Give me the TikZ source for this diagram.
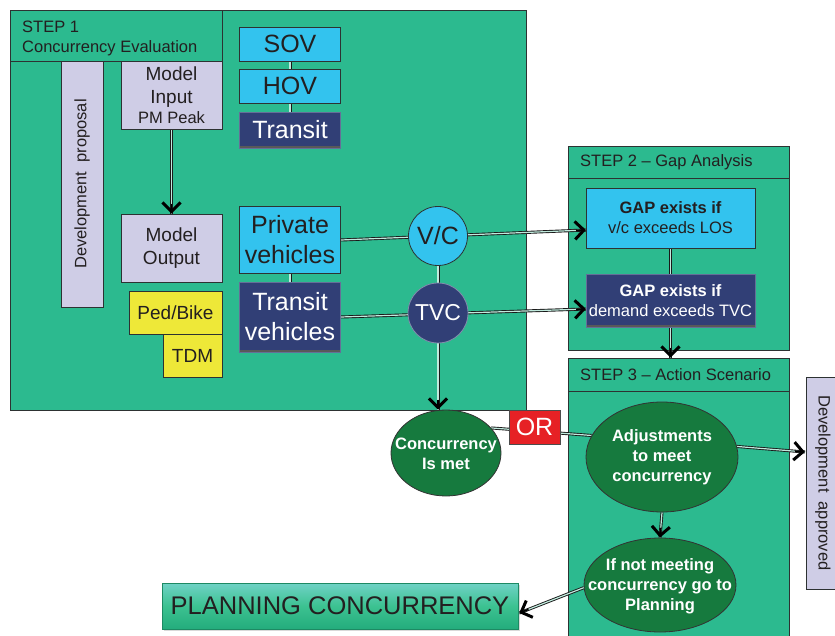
\documentclass[tikz,border=0pt]{standalone}
\usepackage{fontspec}
\setmainfont{Liberation Sans}
\usetikzlibrary{arrows.meta,shapes.geometric,shadows,calc}
\definecolor{stepgreen}{RGB}{44,186,143}
\definecolor{skyc}{RGB}{51,195,238}
\definecolor{navyc}{RGB}{49,63,118}
\definecolor{lavc}{RGB}{207,205,230}
\definecolor{yellc}{RGB}{238,232,56}
\definecolor{darkg}{RGB}{22,122,62}
\definecolor{redc}{RGB}{230,33,37}
\definecolor{txt}{RGB}{35,31,32}
\definecolor{edgec}{RGB}{45,50,50}
\definecolor{pctop}{RGB}{112,210,198}
\definecolor{pcmid}{RGB}{60,194,145}
\definecolor{pcbot}{RGB}{36,172,124}
\newcommand\fsA{\fontsize{16.5}{20}\selectfont}
\newcommand\fsB{\fontsize{19}{23}\selectfont}
\newcommand\fsC{\fontsize{25}{30}\selectfont}
\pgfdeclarelayer{bgl}
\pgfdeclarelayer{lines}
\pgfsetlayers{bgl,lines,main}
\tikzset{
  base/.style={rectangle, draw=edgec, line width=0.8pt, inner sep=0pt, align=center, text=txt},
  greenbox/.style={base, fill=stepgreen},
  skybox/.style={base, fill=skyc},
  navybox/.style={base, fill=navyc, draw=navyc!75!white, text=white,
    path picture={\draw[line width=4pt, black!65] (path picture bounding box.south west) -- (path picture bounding box.south east);}},
  lavbox/.style={base, fill=lavc},
  yellbox/.style={base, fill=yellc},
  oval/.style={ellipse, draw=black!80, line width=0.8pt, fill=darkg, inner sep=0pt},
  ovaltext/.style={inner sep=0pt, text=white, align=center, font=\fsA\bfseries},
  conn/.style={draw=black!90, line width=0.9pt, double=white!70!stepgreen, double distance=1.2pt},
  tipl/.style={draw=black, line width=1.6pt, -{Straight Barb[length=9pt,width=18pt,line width=3pt]}},
  hdr/.style={anchor=west, inner sep=0pt, text=txt, font=\fsA}
}
\newcommand\arr[2]{\draw[conn] #1 -- #2; \draw[tipl] ($#2!10pt!#1$) -- #2;}
\begin{document}
\begin{tikzpicture}[x=1pt,y=-1pt]
\useasboundingbox (0,0) rectangle (835,636);
\begin{pgfonlayer}{bgl}
  \node[greenbox, minimum width=516, minimum height=400] (s1) at (268,210) {};
  \node[greenbox, minimum width=212, minimum height=51] (s1h) at (116,35.5) {};
  \node[greenbox, minimum width=221, minimum height=204] (s2) at (678.5,248) {};
  \node[greenbox, minimum width=221, minimum height=32] (s2h) at (678.5,162) {};
  \node[greenbox, minimum width=221, minimum height=294] (s3) at (678.5,505) {};
  \node[greenbox, minimum width=221, minimum height=33] (s3h) at (678.5,374.5) {};
\end{pgfonlayer}
% headers
\node[anchor=north west, align=left, inner sep=0pt, text=txt, font=\fsA] (s1t) at (22,21) {STEP 1\\Concurrency Evaluation};
\node[hdr] (s2t) at (580,162) {STEP 2 -- Gap Analysis};
\node[hdr] (s3t) at (580,375) {STEP 3 -- Action Scenario};
% step 1 content
\node[lavbox, minimum width=42, minimum height=246] (devp) at (82,184) {};
\node[rotate=90, font=\fsA, text=txt, inner sep=0pt] (devpt) at (devp.center) {Development\ \ proposal};
\node[lavbox, minimum width=101, minimum height=68, font=\fsB] (mi) at (171.5,95) {Model\\Input\\[-3pt]{\fsA PM Peak}};
\node[lavbox, minimum width=101, minimum height=68, font=\fsB] (mo) at (171.5,248) {Model\\Output};
\node[yellbox, minimum width=93, minimum height=43, font=\fsB] (ped) at (175.5,313) {Ped/Bike};
\node[yellbox, minimum width=59, minimum height=43, font=\fsB] (tdm) at (192.5,355.5) {TDM};
\node[skybox, minimum width=101, minimum height=34, font=\fsC] (sov) at (290,44) {SOV};
\node[skybox, minimum width=101, minimum height=34, font=\fsC] (hov) at (290,86) {HOV};
\node[navybox, minimum width=101, minimum height=36, font=\fsC] (transit) at (290,130) {Transit};
\node[skybox, minimum width=101, minimum height=67, font=\fsC] (pv) at (290,240) {Private\\vehicles};
\node[navybox, minimum width=101, minimum height=70, font=\fsC] (tv) at (290,317) {Transit\\vehicles};
\node[circle, draw=edgec, line width=0.8pt, fill=skyc, minimum size=59, inner sep=0pt, text=txt, font=\fsC] (vc) at (438,236) {V/C};
\node[circle, draw=navyc!60!white, line width=0.8pt, fill=navyc, minimum size=60, inner sep=0pt, text=white, font=\fontsize{23}{27}\selectfont] (tvc) at (438,313) {TVC};
% step 2 content
\node[skybox, minimum width=169, minimum height=60, font=\fsA] (gap1) at (670.5,218) {\textbf{GAP exists if}\\v/c exceeds LOS};
\node[navybox, minimum width=169, minimum height=53, font=\fsA] (gap2) at (670.5,300.5) {\textbf{GAP exists if}\\demand exceeds TVC};
% step 3 content
\node[oval, minimum width=110, minimum height=86] (conc) at (446,453) {};
\node[ovaltext] (conct) at (446,454) {Concurrency\\Is met};
\node[rectangle, draw=black!70, line width=0.6pt, fill=redc, minimum width=51, minimum height=34, inner sep=0pt, text=white, font=\fsC] (or) at (534.5,427) {OR};
\node[oval, minimum width=152, minimum height=110] (adj) at (662,457) {};
\node[ovaltext] (adjt) at (662,457) {Adjustments\\to meet\\concurrency};
\node[oval, minimum width=152, minimum height=94] (ifnot) at (660,585) {};
\node[ovaltext] (ifnott) at (660,586) {If not meeting\\concurrency go to\\Planning};
\node[lavbox, minimum width=40, minimum height=212] (deva) at (826,483) {};
\node[rotate=-90, font=\fsA, text=txt, inner sep=0pt] (devat) at (823,483) {Development\ \ approved};
\node[rectangle, draw=pcbot!80!black, line width=0.4pt, top color=pctop, bottom color=pcbot, middle color=pcmid, drop shadow={opacity=0.3, shadow xshift=1.5pt, shadow yshift=-2pt}, minimum width=356, minimum height=46, inner sep=0pt, text=txt, font=\fontsize{25.5}{30}\selectfont] (pc) at (340,606) {PLANNING CONCURRENCY};
% connector end points
\coordinate (g1in) at (586,230);
\coordinate (g2in) at (586,309);
\coordinate (dain) at (805,452);
\coordinate (pcin) at ($(pc.east)+(1,7)$);
\coordinate (concin) at (vc.south |- conc.north);
\coordinate (s3in) at (gap1.south |- s3.north);
\begin{pgfonlayer}{lines}
  \draw[conn] (sov) -- (transit);
  \draw[conn] (pv) -- (tv);
  \draw[conn] (conc.29) -- (adj.163);
  \arr{(mi.south)}{(mo.north)}
  \arr{(vc.south)}{(concin)}
  \arr{(pv.east)}{(g1in)}
  \arr{(tv.east)}{(g2in)}
  \arr{(gap1.south)}{(s3in)}
  \arr{(adj.8)}{(dain)}
  \arr{(adj.south)}{(ifnot.north)}
  \arr{(ifnot.182)}{(pcin)}
\end{pgfonlayer}
\end{tikzpicture}
\end{document}
